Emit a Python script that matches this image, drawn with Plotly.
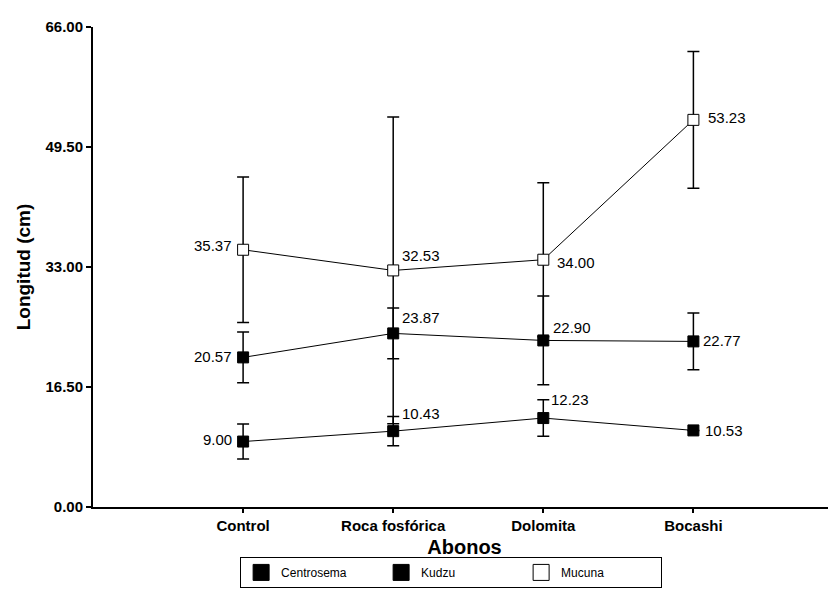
import plotly.graph_objects as go

# categorias (abonos)
abonos = ["Control", "Roca fosfórica", "Dolomita", "Bocashi"]

# longitud media (cm) por leguminosa
centrosema = [9.00, 10.43, 12.23, 10.53]
kudzu = [20.57, 23.87, 22.90, 22.77]
mucuna = [35.37, 32.53, 34.00, 53.23]

# barras de error (+/-)
err_centrosema = [2.4, 2.0, 2.5, 0.0]
err_kudzu = [3.5, 3.5, 6.1, 3.9]
err_mucuna = [10.0, 21.1, 10.6, 9.4]

y_ticks = [0.0, 16.5, 33.0, 49.5, 66.0]

FONT = "Liberation Sans, Arial, sans-serif"

x_idx = list(range(len(abonos)))

# label placement (anchor, dx, dy) per point
place_c = [("right", -9, 2), ("left", 7, 18), ("left", 6, 19), ("left", 10, 0)]
place_k = [("right", -9, 1), ("left", 7, 16), ("left", 8, 13), ("left", 8, 1)]
place_m = [("right", -9, 4), ("left", 7, 15), ("left", 12, -3), ("left", 13, 2)]

fig = go.Figure()


def add_series(vals, errs, fill, place):
    fig.add_trace(go.Scatter(
        x=x_idx, y=vals,
        mode="lines+markers",
        line=dict(color="black", width=1),
        marker=dict(symbol="square", size=11, color=fill,
                    line=dict(color="black", width=1)),
        error_y=dict(type="data", array=errs, visible=True,
                     color="black", thickness=1.5, width=6),
        showlegend=False,
        cliponaxis=False,
    ))
    for xi, v, (anchor, dx, dy) in zip(x_idx, vals, place):
        fig.add_annotation(
            x=xi, y=v, text=f"{v:.2f}", showarrow=False,
            xanchor=anchor, yanchor="middle", xshift=dx, yshift=dy,
            font=dict(family=FONT, size=15, color="black"),
        )


add_series(mucuna, err_mucuna, "white", place_m)
add_series(kudzu, err_kudzu, "black", place_k)
add_series(centrosema, err_centrosema, "black", place_c)

# legend entries
for name, fill in [("Centrosema", "black"), ("Kudzu", "black"), ("Mucuna", "white")]:
    fig.add_trace(go.Scatter(
        x=[None], y=[None], mode="markers", name=name,
        marker=dict(symbol="square", size=16, color=fill,
                    line=dict(color="black", width=1)),
    ))

# page body adds 8px, so the figure is a bit smaller than the window
fig.update_layout(
    width=828, height=594,
    margin=dict(l=85, r=0, t=19, b=95),
    paper_bgcolor="white", plot_bgcolor="white",
    font=dict(family=FONT, color="black"),
    legend=dict(
        orientation="h", x=0.198, xanchor="left", y=-0.104, yanchor="top",
        bordercolor="black", borderwidth=1,
        font=dict(family=FONT, size=12, color="black"),
        entrywidth=95, entrywidthmode="pixels",
        itemsizing="trace", tracegroupgap=0,
    ),
    xaxis=dict(
        range=[-1.0, 3.95],
        tickvals=x_idx, ticktext=abonos,
        tickfont=dict(family=FONT, size=15, color="black", weight="bold"),
        ticks="outside", ticklen=4, tickwidth=1.5, tickcolor="black",
        showline=True, linecolor="black", linewidth=2,
        showgrid=False, zeroline=False,
        title=dict(text="<b>Abonos</b>", font=dict(family=FONT, size=20), standoff=7),
    ),
    yaxis=dict(
        range=[0, 66],
        tickvals=y_ticks, tickformat=".2f",
        tickfont=dict(family=FONT, size=15, color="black", weight="bold"),
        ticks="outside", ticklen=5, tickwidth=1.5, tickcolor="black",
        showline=True, linecolor="black", linewidth=2,
        showgrid=False, zeroline=False,
        title=dict(text="<b>Longitud (cm)</b>", font=dict(family=FONT, size=19), standoff=10),
    ),
)

fig.write_html("out.html")
